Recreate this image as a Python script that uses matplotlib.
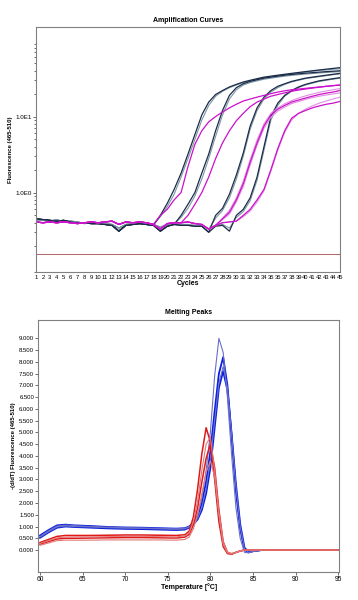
import numpy as np
import matplotlib
matplotlib.use('Agg')
import matplotlib.pyplot as plt
from matplotlib.ticker import FixedLocator, NullFormatter, LogLocator

plt.rcParams['font.family'] = ['Liberation Sans', 'DejaVu Sans']

# ---- amplification data (fluorescence per cycle) ----
cycles = list(range(1, 46))

# baseline noise before the rise
dark_base = [0.45, 0.44, 0.43, 0.42, 0.43, 0.41, 0.40, 0.40, 0.39, 0.39, 0.38, 0.37, 0.31, 0.37, 0.38,
             0.39, 0.38, 0.37, 0.31, 0.36, 0.38, 0.37, 0.37, 0.36, 0.36, 0.30, 0.36, 0.37, 0.31, 0.38]
dark_base2 = [0.44, 0.43, 0.42, 0.44, 0.41, 0.42, 0.41, 0.39, 0.40, 0.40, 0.39, 0.38, 0.34, 0.38, 0.39,
              0.40, 0.39, 0.38, 0.35, 0.38, 0.39, 0.38, 0.38, 0.37, 0.37, 0.33, 0.37, 0.38, 0.34, 0.39]
mag_base = [0.41, 0.40, 0.41, 0.40, 0.41, 0.40, 0.39, 0.40, 0.41, 0.40, 0.41, 0.42, 0.38, 0.41, 0.40, 0.41,
            0.40, 0.38, 0.33, 0.39, 0.40, 0.40, 0.41, 0.39, 0.38, 0.33, 0.37, 0.40, 0.41, 0.42, 0.43, 0.44]

# rising parts, they end at cycle 45
dark_a = [0.50, 0.72, 1.1, 1.8, 3.2, 5.8, 10.5, 15.5, 19.5, 22, 24.5, 26.5, 28.5, 30, 31.5, 33, 34, 35,
          36, 37, 38, 39, 40, 41, 42, 43, 44]
dark_a2 = [0.48, 0.65, 0.95, 1.6, 2.8, 5.0, 9.0, 14, 18.5, 21.5, 24, 26, 28, 29.5, 31, 32.5, 33.5, 34.5,
           35.5, 36.5, 37.5, 38.5, 39.5, 40.5, 41, 42, 42.5]
dark_b = [0.5, 0.7, 1.0, 1.8, 3.2, 6.5, 12, 19, 24, 27, 29, 30.5, 32, 33, 34, 35, 35.8, 36.5, 37.2, 37.8,
          38.4, 39, 39.5, 40]
dark_b2 = [0.47, 0.62, 0.9, 1.5, 2.8, 5.5, 10.5, 17, 22.5, 26, 28, 29.5, 31, 32, 33, 34, 34.8, 35.5, 36.2,
           36.8, 37.4, 38, 38.5, 39]
dark_c = [0.5, 0.62, 0.95, 1.7, 3.3, 7.5, 13, 18, 22, 25, 27, 29, 30.5, 32, 33, 34, 35, 36, 37]
dark_c2 = [0.46, 0.58, 0.85, 1.5, 3.0, 6.8, 12, 17, 21, 24, 26.5, 28.5, 30, 31.5, 32.5, 33.5, 34.5, 35.5, 36.5]
dark_d = [0.5, 0.6, 0.85, 1.6, 4.0, 10, 15, 19, 22, 24.5, 26.5, 28, 29.5, 30.5, 31.5, 32.5]
dark_d2 = [0.47, 0.56, 0.78, 1.45, 3.6, 9.0, 14, 18.5, 21.5, 24, 26, 27.5, 29, 30, 31, 32]

mag_1 = [0.5, 0.6, 0.8, 1.0, 2.2, 4.3, 6.5, 8.5, 10, 11.5, 13, 14.5, 16, 17, 18, 19, 20, 21, 21.8, 22.5,
         23, 23.5, 24, 24.5, 25, 25.5, 26]
mag_2 = [0.5, 0.7, 1.0, 1.6, 2.8, 4.5, 6.5, 8.8, 11, 13.5, 15.5, 17, 18.5, 19.5, 20.5, 21.5, 22.3, 23,
         23.7, 24.3, 25, 25.5, 26]
mag_3 = [0.45, 0.55, 0.8, 1.3, 2.5, 4.5, 7.5, 10.5, 12.5, 14, 15.5, 16.5, 17.5, 18.5, 19.5, 20.3, 21, 22]
mag_3b = [0.44, 0.52, 0.75, 1.2, 2.3, 4.2, 7.0, 9.8, 11.8, 13.3, 14.8, 15.8, 16.8, 17.7, 18.5, 19.2, 19.8, 20.5]
mag_3c = [0.46, 0.58, 0.85, 1.4, 2.7, 4.9, 8.0, 11, 13, 14.7, 16.2, 17.5, 18.7, 19.8, 20.8, 21.7, 22.5, 23.3]
mag_4 = [0.5, 0.6, 0.8, 1.1, 2.0, 3.8, 6.5, 9.5, 11, 12, 13, 13.8, 14.5, 15, 15.8]
mag_4b = [0.48, 0.57, 0.75, 1.05, 1.9, 3.6, 6.2, 9.0, 11, 12.5, 13.8, 15, 16, 17, 18]

threshold = 0.155

# ---- melting peak data (-dF/dT per temperature) ----
temps = [60, 61, 62, 63, 64, 66, 68, 70, 72, 74, 76, 77, 77.5, 78, 78.5, 79, 79.5, 80, 80.5, 81, 81.5,
         82, 82.5, 83, 83.5, 84, 84.5, 85, 86, 88, 90, 92, 95]
blue_1 = [0.55, 0.78, 0.98, 1.02, 1.00, 0.98, 0.95, 0.93, 0.92, 0.90, 0.88, 0.90, 0.98, 1.15, 1.50, 2.20,
          3.40, 5.00, 7.40, 9.00, 8.40, 6.50, 4.00, 1.80, 0.50, -0.10, -0.12, -0.05, 0, 0, 0, 0, 0]
blue_2 = [0.62, 0.85, 1.05, 1.08, 1.05, 1.02, 0.98, 0.96, 0.95, 0.93, 0.91, 0.93, 1.00, 1.15, 1.45, 2.00,
          2.90, 4.20, 5.90, 7.50, 8.20, 7.00, 4.80, 2.50, 0.90, 0.00, -0.10, -0.05, 0, 0, 0, 0, 0]
blue_3 = [0.58, 0.82, 1.02, 1.06, 1.04, 1.00, 0.97, 0.95, 0.94, 0.92, 0.90, 0.92, 0.98, 1.10, 1.35, 1.80,
          2.60, 3.80, 5.50, 7.10, 7.80, 6.90, 4.90, 2.70, 1.00, 0.05, -0.10, -0.06, 0, 0, 0, 0, 0]
blue_4 = [0.52, 0.75, 0.95, 1.00, 0.98, 0.95, 0.92, 0.90, 0.89, 0.87, 0.85, 0.87, 0.95, 1.10, 1.30, 1.70,
          2.40, 3.50, 5.20, 6.90, 7.60, 6.80, 4.90, 2.80, 1.10, 0.10, -0.08, -0.05, 0, 0, 0, 0, 0]
red_1 = [0.32, 0.45, 0.58, 0.62, 0.62, 0.62, 0.63, 0.64, 0.64, 0.63, 0.62, 0.65, 0.80, 1.40, 2.60, 4.10,
         5.20, 4.60, 3.00, 1.20, 0.15, -0.15, -0.18, -0.10, -0.04, 0, 0, 0, 0, 0, 0, 0, 0]
red_2 = [0.28, 0.40, 0.52, 0.55, 0.56, 0.56, 0.57, 0.58, 0.58, 0.57, 0.56, 0.60, 0.72, 1.20, 2.10, 3.40,
         4.50, 4.80, 3.40, 1.50, 0.25, -0.12, -0.17, -0.10, -0.04, 0, 0, 0, 0, 0, 0, 0, 0]
red_3 = [0.25, 0.36, 0.47, 0.50, 0.50, 0.51, 0.52, 0.53, 0.53, 0.52, 0.51, 0.55, 0.66, 1.05, 1.80, 2.90,
         3.90, 4.50, 3.50, 1.70, 0.35, -0.10, -0.16, -0.10, -0.04, 0, 0, 0, 0, 0, 0, 0, 0]
red_4 = [0.20, 0.30, 0.40, 0.42, 0.42, 0.42, 0.43, 0.43, 0.43, 0.43, 0.42, 0.45, 0.55, 0.90, 1.50, 2.40,
         3.30, 3.80, 3.10, 1.60, 0.35, -0.08, -0.15, -0.10, -0.04, 0, 0, 0, 0, 0, 0, 0, 0]


def full(base, rise):
    # join baseline and rising part so the curve covers all 45 cycles
    return base[:45 - len(rise)] + rise


fig = plt.figure(figsize=(3.58, 6.0), dpi=100)
fig.patch.set_facecolor('white')

# ---------------- Amplification Curves ----------------
ax1 = fig.add_axes([0.1006, 0.5467, 0.849, 0.408])
navy = '#1c2c48'
teal = '#7d97a6'
magenta = '#cc10cc'
pink = '#e08ee0'

for r, r2 in [(dark_a, dark_a2), (dark_b, dark_b2), (dark_c, dark_c2), (dark_d, dark_d2)]:
    ax1.plot(cycles, full(dark_base2, r2), color=teal, lw=0.8)
    ax1.plot(cycles, full(dark_base, r), color=navy, lw=0.9)
for r in [mag_3b, mag_3c, mag_4b]:
    ax1.plot(cycles, full(mag_base, r), color=pink, lw=0.8)
for r in [mag_1, mag_2, mag_3, mag_4]:
    ax1.plot(cycles, full(mag_base, r), color=magenta, lw=0.9)

ax1.axhline(threshold, color='#b06464', lw=0.7)
ax1.set_yscale('log')
ax1.set_ylim(0.09, 150)
ax1.set_xlim(1, 45)
ax1.yaxis.set_major_locator(FixedLocator([1, 10]))
ax1.set_yticklabels(['1.0E0', '1.0E1'])
ax1.yaxis.set_minor_locator(LogLocator(base=10, subs=np.arange(2, 10)))
ax1.yaxis.set_minor_formatter(NullFormatter())
ax1.set_xticks(cycles)
ax1.set_xticklabels([str(c) for c in cycles])
ax1.tick_params(axis='x', labelsize=4.2, length=0, pad=2)
ax1.tick_params(axis='y', which='major', labelsize=4.5, length=2, width=0.4, pad=1)
ax1.tick_params(axis='y', which='minor', length=1.2, width=0.4)
ax1.set_title('Amplification Curves', fontsize=5, fontweight='bold', pad=4)
ax1.set_xlabel('Cycles', fontsize=5, fontweight='bold', labelpad=0)
ax1.set_ylabel('Fluorescence (465-510)', fontsize=4.3, fontweight='bold', labelpad=2)
for s in ax1.spines.values():
    s.set_color('#808080')
    s.set_linewidth(0.8)

# ---------------- Melting Peaks ----------------
ax2 = fig.add_axes([0.107, 0.0472, 0.840, 0.4195])
for b in [blue_2, blue_4]:
    ax2.plot(temps, b, color='#0a1ee0', lw=1.3)
for b in [blue_1, blue_3]:
    ax2.plot(temps, b, color='#6a70c8', lw=0.8)
for r in [red_1, red_3]:
    ax2.plot(temps, r, color='#e01818', lw=1.1)
for r in [red_2, red_4]:
    ax2.plot(temps, r, color='#e07a7a', lw=0.8)

ax2.set_xlim(59.8, 95.1)
ax2.set_ylim(-0.92, 9.78)
ax2.set_xticks([60, 65, 70, 75, 80, 85, 90, 95])
ax2.set_yticks(np.arange(0, 9.01, 0.5))
ax2.set_yticklabels(['%.3f' % v for v in np.arange(0, 9.01, 0.5)])
ax2.tick_params(axis='x', labelsize=4.8, length=2, width=0.4, pad=1)
ax2.tick_params(axis='y', labelsize=4.3, length=2, width=0.4, pad=1)
ax2.set_title('Melting Peaks', fontsize=5, fontweight='bold', pad=4)
ax2.set_xlabel('Temperature [\u00b0C]', fontsize=5, fontweight='bold', labelpad=0)
ax2.set_ylabel('-(d/dT) Fluorescence (465-510)', fontsize=4.3, fontweight='bold', labelpad=2)
for s in ax2.spines.values():
    s.set_color('#808080')
    s.set_linewidth(0.8)

fig.savefig('out.png', dpi=100)
